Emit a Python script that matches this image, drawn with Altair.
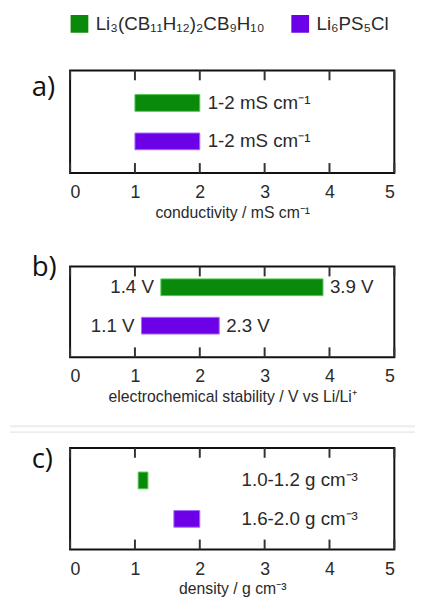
import altair as alt
import pandas as pd

materials = ["Li₃(CB₁₁H₁₂)₂CB₉H₁₀", "Li₆PS₅Cl"]
fill_colors = ["#0a8a0a", "#6c00e6"]
edge_colors = ["#56c856", "#a870ff"]

cond_low = [1.0, 1.0]
cond_high = [2.0, 2.0]
cond_text = ["1-2 mS cm⁻¹", "1-2 mS cm⁻¹"]

stab_low = [1.4, 1.1]
stab_high = [3.9, 2.3]
stab_low_text = ["1.4 V", "1.1 V"]
stab_high_text = ["3.9 V", "2.3 V"]

dens_low = [1.05, 1.6]
dens_high = [1.2, 2.0]
dens_text = ["1.0-1.2 g cm⁻³", "1.6-2.0 g cm⁻³"]

x_ticks = [0, 1, 2, 3, 4, 5]
panel_letters = ["a)", "b)", "c)"]
axis_titles = ["conductivity / mS cm⁻¹",
               "electrochemical stability / V vs Li/Li⁺",
               "density / g cm⁻³"]

FONT = "Liberation Sans"
TXT = "#2a2a2a"
W = 329

x_scale = alt.Scale(domain=[0, 5], nice=False, zero=False)
color_scale = alt.Scale(domain=materials, range=fill_colors)
stroke_scale = alt.Scale(domain=materials, range=edge_colors)
legend = alt.Legend(orient="top", title=None, symbolType="square", symbolSize=324,
                    symbolStrokeWidth=0, labelFontSize=19, labelFont=FONT,
                    labelColor=TXT, columnPadding=26, labelOffset=7, offset=34,
                    labelLimit=400)


def make_axis(title):
    return alt.Axis(values=x_ticks, title=title, ticks=False, domain=False,
                    grid=False, labelFontSize=18, labelFont=FONT, labelColor=TXT,
                    labelPadding=11, titleFontSize=16, titleFont=FONT,
                    titleColor=TXT, titleFontWeight="normal", titlePadding=3,
                    format="d")


def panel(low, high, H, yrange, letter, letter_y, title, text_layers,
          top_ext, bot_ext, extra=None):
    ax = make_axis(title)
    df = pd.DataFrame({"material": materials, "low": low, "high": high})
    y_enc = alt.Y("material:N", sort=materials,
                  scale=alt.Scale(type="point", domain=materials, range=yrange, padding=0),
                  axis=None)
    bars = alt.Chart(df).mark_bar(size=17, strokeWidth=1).encode(
        x=alt.X("low:Q", scale=x_scale, axis=ax),
        x2="high:Q",
        y=y_enc,
        color=alt.Color("material:N", scale=color_scale, legend=legend),
        stroke=alt.Stroke("material:N", scale=stroke_scale, legend=None),
    )
    tdf = pd.DataFrame({"t": x_ticks})
    tx = alt.X("t:Q", scale=x_scale, axis=ax)
    top_ticks = alt.Chart(tdf).mark_rule(color="#333", strokeWidth=2).encode(
        x=tx, y=alt.value(0), y2=alt.value(10))
    bot_ticks = alt.Chart(tdf).mark_rule(color="#333", strokeWidth=2).encode(
        x=tx, y=alt.value(H - 10), y2=alt.value(H))
    let = alt.Chart(pd.DataFrame({"l": [letter]})).mark_text(
        font="Open Sans", fontSize=28, align="left", baseline="middle", color="#111"
    ).encode(x=alt.value(-39), y=alt.value(letter_y), text="l:N")
    bounds = alt.Chart(pd.DataFrame({"l": [letter]})).mark_rule(opacity=0).encode(
        x=alt.value(0), y=alt.value(-top_ext), y2=alt.value(H + bot_ext))
    layers = [bars, top_ticks, bot_ticks, let, bounds]
    for spec in text_layers:
        tdf2 = pd.DataFrame({"material": materials, "pos": spec["pos"], "txt": spec["txt"]})
        if spec.get("px") is not None:
            xenc = alt.value(spec["px"])
        else:
            xenc = alt.X("pos:Q", scale=x_scale, axis=ax)
        layers.append(alt.Chart(tdf2).mark_text(
            font=FONT, fontSize=19, color=TXT, align=spec["align"], baseline="middle",
            dx=spec["dx"]).encode(x=xenc, y=y_enc, text="txt:N"))
    if extra is not None:
        layers.extend(extra)
    return alt.layer(*layers).properties(width=W, height=H)


pa = panel(cond_low, cond_high, 104, [33, 72], panel_letters[0], 18, axis_titles[0],
           [{"pos": cond_high, "txt": cond_text, "align": "left", "dx": 8}],
           top_ext=2, bot_ext=73)
pb = panel(stab_low, stab_high, 92, [21, 60], panel_letters[1], 2, axis_titles[1],
           [{"pos": stab_low, "txt": stab_low_text, "align": "right", "dx": -7},
            {"pos": stab_high, "txt": stab_high_text, "align": "left", "dx": 7}],
           top_ext=20, bot_ext=64)
sep = alt.Chart(pd.DataFrame({"s": [-22, -16]})).mark_rule(color="#ececec", strokeWidth=2).encode(
    x=alt.value(-61), x2=alt.value(350), y=alt.Y("s:Q", scale=None, axis=None))
pc = panel(dens_low, dens_high, 103, [33, 72], panel_letters[2], 12, axis_titles[2],
           [{"pos": dens_low, "txt": dens_text, "align": "left", "dx": 0, "px": 174}],
           top_ext=26, bot_ext=40, extra=[sep])

chart = alt.vconcat(pa, pb, pc, spacing=0).resolve_scale(
    color="shared", stroke="shared").properties(
    padding={"left": 0, "top": 2, "right": 0, "bottom": 0}
).configure_view(stroke="#111", strokeWidth=2)

chart.save("out.html", embed_options={"renderer": "svg", "actions": False})
